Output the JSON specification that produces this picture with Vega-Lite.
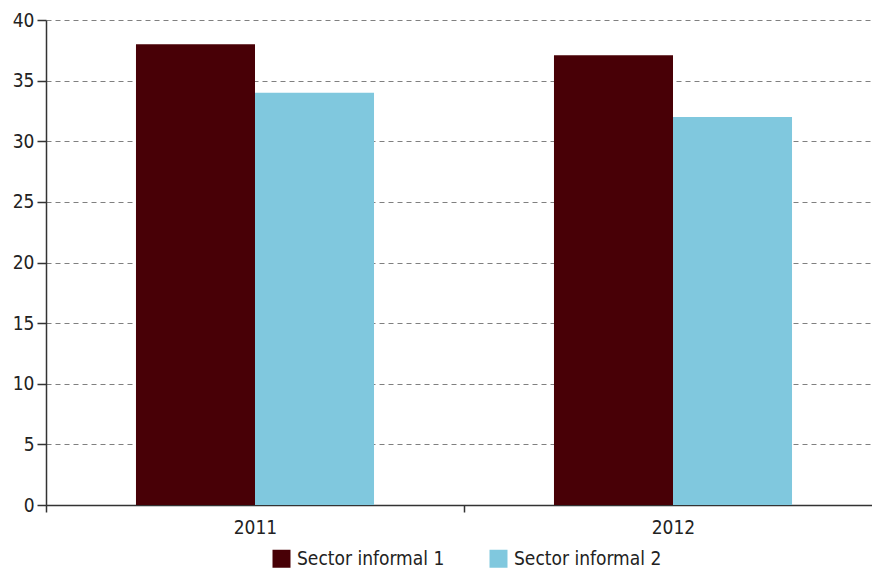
{
  "$schema": "https://vega.github.io/schema/vega-lite/v6.json",
  "width": 836,
  "height": 485,
  "autosize": {"type": "none"},
  "padding": {"left": 46, "top": 20, "right": 0, "bottom": 64},
  "background": "white",
  "data": {
    "values": [
      {"year": "2011", "serie": "Sector informal 1", "value": 38.0},
      {"year": "2011", "serie": "Sector informal 2", "value": 34.0},
      {"year": "2012", "serie": "Sector informal 1", "value": 37.1},
      {"year": "2012", "serie": "Sector informal 2", "value": 32.0}
    ]
  },
  "config": {
    "font": "'DejaVu Sans Condensed', 'Roboto Condensed', Roboto, sans-serif",
    "view": {"stroke": null},
    "axis": {"labelFont": "'DejaVu Sans Condensed', 'Roboto Condensed', Roboto, sans-serif", "labelFontSize": 19, "labelColor": "#222222"}
  },
  "mark": {"type": "bar"},
  "encoding": {
    "x": {
      "field": "year", "type": "nominal", "title": null,
      "scale": {"paddingInner": 0, "paddingOuter": 0},
      "axis": {"labelAngle": 0, "tickBand": "extent", "domainColor": "#333333", "domainWidth": 1.5, "tickColor": "#333333", "tickWidth": 1.5, "tickSize": 7, "labelPadding": 6, "grid": false}
    },
    "xOffset": {"field": "serie", "type": "nominal", "scale": {"paddingInner": 0, "paddingOuter": 0.756}},
    "y": {
      "field": "value", "type": "quantitative", "title": null,
      "scale": {"domain": [0, 40]},
      "axis": {"values": [0, 5, 10, 15, 20, 25, 30, 35, 40], "domainColor": "#333333", "domainWidth": 1.5, "tickColor": "#333333", "tickWidth": 1.5, "tickSize": 9, "labelPadding": 3, "grid": true, "gridDash": [5, 4], "gridColor": "#808080", "gridWidth": 1}
    },
    "color": {
      "field": "serie", "type": "nominal",
      "scale": {"domain": ["Sector informal 1", "Sector informal 2"], "range": ["#480006", "#80C8DE"]},
      "legend": {"title": null, "orient": "none", "direction": "horizontal", "legendX": 226, "legendY": 529, "symbolType": "square", "symbolSize": 324, "symbolStrokeWidth": 0, "labelFontSize": 19, "labelFont": "'DejaVu Sans Condensed', 'Roboto Condensed', Roboto, sans-serif", "labelColor": "#222222", "labelOffset": 6, "columnPadding": 44, "labelLimit": 300}
    }
  }
}
